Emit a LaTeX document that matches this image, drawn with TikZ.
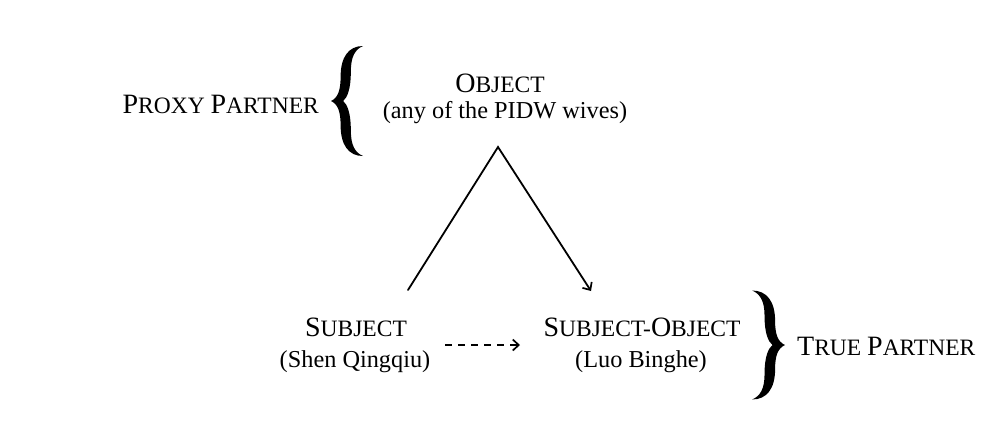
\documentclass[tikz,border=0pt]{standalone}
\usepackage{fontspec}
\setmainfont{Liberation Serif}
\usetikzlibrary{arrows.meta}
\newcommand\capA[1]{{\fontsize{28}{30}\selectfont #1}}
\newcommand\capB[1]{{\fontsize{23.5}{26}\selectfont #1}}
\newcommand\parenT[1]{{\fontsize{24.3}{27}\selectfont #1}}
\tikzset{
  lbl/.style={inner sep=0pt, anchor=base, font=\fontsize{23.5}{26}\selectfont},
  conn/.style={line width=1.8pt, line cap=round, line join=miter},
  barb/.style={-{Straight Barb[length=6pt,width=11pt,line width=1.7pt]}},
  dashconn/.style={line width=1.8pt, dash pattern=on 7pt off 6pt},
  curlybrace/.pic={
    \fill[black] (0,0)
      .. controls (0.22,0.03) and (0.3,0.1) .. (0.3,0.22)
      .. controls (0.3,0.4) and (0.55,0.5) .. (1,0.5)
      .. controls (0.75,0.47) and (0.62,0.4) .. (0.62,0.27)
      .. controls (0.62,0.1) and (0.5,0.03) .. (0.38,0)
      .. controls (0.5,-0.03) and (0.62,-0.1) .. (0.62,-0.27)
      .. controls (0.62,-0.4) and (0.75,-0.47) .. (1,-0.5)
      .. controls (0.55,-0.5) and (0.3,-0.4) .. (0.3,-0.22)
      .. controls (0.3,-0.1) and (0.22,-0.03) .. (0,0) -- cycle;
  }
}
\begin{document}
\begin{tikzpicture}[x=1pt,y=-1pt]
\useasboundingbox (0,0) rectangle (1000,440);
\fill[white] (0,0) rectangle (1000,440);

% texts
\node[lbl, anchor=base east] (proxy) at (319,113.3) {\capA{P}\capB{ROXY} \capA{P}\capB{ARTNER}};
\node[lbl] (obj) at (500,92.3) {\capA{O}\capB{BJECT}};
\node[lbl] (objsub) at (505,118) {\parenT{(any of the PIDW wives)}};
\node[lbl] (subj) at (356,336.7) {\capA{S}\capB{UBJECT}};
\node[lbl] (subjsub) at (355,367.5) {\parenT{(Shen Qingqiu)}};
\node[lbl] (so) at (642,336.7) {\capA{S}\capB{UBJECT-}\capA{O}\capB{BJECT}};
\node[lbl] (sosub) at (641,367.5) {\parenT{(Luo Binghe)}};
\node[lbl, anchor=base west] (truep) at (797,355.7) {\capA{T}\capB{RUE} \capA{P}\capB{ARTNER}};

% braces
\pic[xscale=32, yscale=110] at (331,101) {curlybrace};
\pic[xscale=-33, yscale=109] at (785,345) {curlybrace};

% connectors
\coordinate (apex) at (498,147);
\coordinate (lend) at (408,290);
\coordinate (rend) at (591,291);
\draw[conn, barb] (lend) -- (apex) -- (rend);

\coordinate (dstart) at (445,345);
\coordinate (dend) at (520,345);
\draw[dashconn, barb] (dstart) -- (dend);
\end{tikzpicture}
\end{document}
